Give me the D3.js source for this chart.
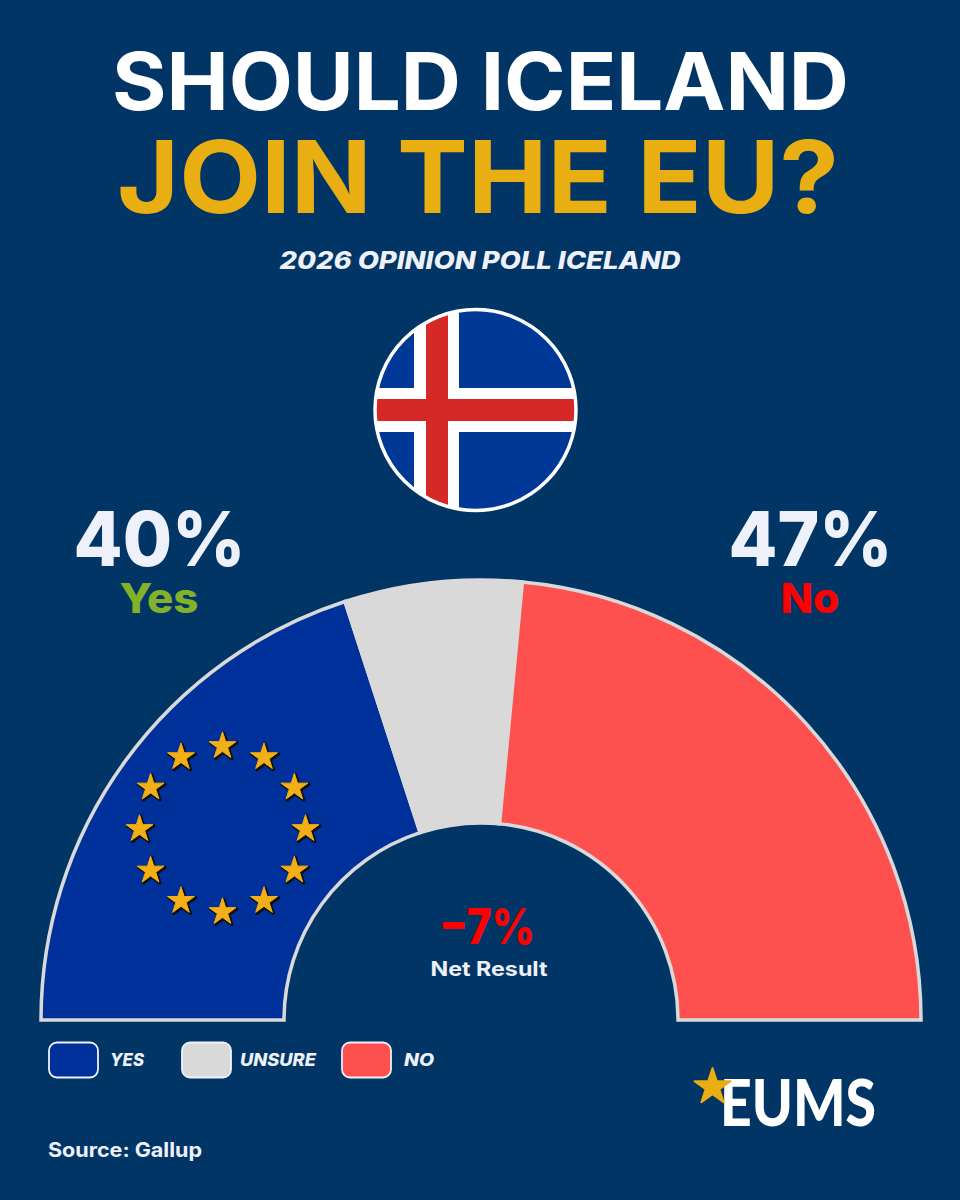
<!DOCTYPE html>
<html><head><meta charset="utf-8">
<script src="https://cdn.jsdelivr.net/npm/d3@7/dist/d3.min.js"></script>
<style>html,body{margin:0;padding:0;background:#013565}svg{display:block}text{font-family:Inter,"Open Sans",sans-serif}</style>
</head><body><svg id="c" width="960" height="1200"></svg>
<script>
const categories=["Yes","Unsure","No"];
const legendLabels=["YES","UNSURE","NO"];
const shares=[40,13,47];
const colours=["#00309a","#d9d9d9","#ff5050"];
const euStarCount=12;
const W=960,H=1200,bg="#013565",gold="#e8ae12",ink="#eef1f9";
const svg=d3.select("#c").attr("viewBox",[0,0,W,H]);
svg.append("rect").attr("width",W).attr("height",H).attr("fill",bg);

function label(t,x,y,size,fill,opts={}){
  const n=svg.append("text").attr("x",x).attr("y",y).attr("font-size",size).attr("fill",fill)
    .attr("font-weight",opts.weight||700).attr("text-anchor",opts.anchor||"start").text(t);
  if(opts.italic)n.attr("font-style","italic");
  if(opts.len)n.attr("textLength",opts.len).attr("lengthAdjust","spacingAndGlyphs");
  return n;
}
label("SHOULD ICELAND",480.5,110,80,"#ffffff",{anchor:"middle",weight:700,len:737});
label("JOIN THE EU?",478,213,100,gold,{anchor:"middle",weight:700,len:722});
label("2026 OPINION POLL ICELAND",480,269,24,ink,{anchor:"middle",italic:true,weight:800,len:401});

// flag
const fx=475.5,fy=410,fr=100;
const defs=svg.append("defs");
defs.append("clipPath").attr("id","fc").append("circle").attr("cx",fx).attr("cy",fy).attr("r",fr);
const flag=svg.append("g").attr("clip-path","url(#fc)");
flag.append("rect").attr("x",fx-fr).attr("y",fy-fr).attr("width",2*fr).attr("height",2*fr).attr("fill","#003897");
flag.append("rect").attr("x",414).attr("y",fy-fr).attr("width",45).attr("height",2*fr).attr("fill","#fff");
flag.append("rect").attr("x",fx-fr).attr("y",388).attr("width",2*fr).attr("height",44).attr("fill","#fff");
flag.append("rect").attr("x",426).attr("y",fy-fr).attr("width",22).attr("height",2*fr).attr("fill","#d72828");
flag.append("rect").attr("x",fx-fr).attr("y",399).attr("width",2*fr).attr("height",22).attr("fill","#d72828");
svg.append("circle").attr("cx",fx).attr("cy",fy).attr("r",fr+0.5).attr("fill","none").attr("stroke","#fff").attr("stroke-width",3.5);

// gauge
const cx=481,cy=1020,R=440,r0=197;
const pie=d3.pie().sort(null).startAngle(-Math.PI/2).endAngle(Math.PI/2);
const arc=d3.arc().innerRadius(r0).outerRadius(R);
const g=svg.append("g").attr("transform",`translate(${cx},${cy})`);
g.selectAll("path").data(pie(shares)).join("path").attr("d",arc)
  .attr("fill",(d,i)=>colours[i]).attr("stroke","#d9d9d9").attr("stroke-width",3.5).attr("stroke-linejoin","miter");

// EU stars
const ex=222.5,ey=829,er=83;
const star=d3.symbol(d3.symbolStar).size(225)();
const sg=svg.append("g");
d3.range(euStarCount).forEach(i=>{
  const a=i/euStarCount*2*Math.PI, x=ex+er*Math.sin(a), y=ey-er*Math.cos(a);
  sg.append("path").attr("d",star).attr("transform",`translate(${x+1.2},${y+1.2})`).attr("fill","#111").attr("stroke","#111").attr("stroke-width",3).attr("stroke-linejoin","round");
  sg.append("path").attr("d",star).attr("transform",`translate(${x},${y})`).attr("fill","#f3af17").attr("stroke","#f3af17").attr("stroke-width",1).attr("stroke-linejoin","round");
});

// headline numbers
label(shares[0]+"%",159.5,566,76,ink,{anchor:"middle",len:172,weight:800});
label(categories[0],159,613,41,"#84b12a",{anchor:"middle",len:79,weight:800});
label(shares[2]+"%",810.5,566,76,ink,{anchor:"middle",len:164,weight:800});
label(categories[2],810,613,41,"#ff0000",{anchor:"middle",len:59,weight:800});
label("−"+(shares[2]-shares[0])+"%",487,944,50,"#ff0000",{anchor:"middle",len:96,weight:800});
label("Net Result",489,976,20,ink,{anchor:"middle",len:117,weight:700});

// legend
const lx=[48,181,341], tx=[110,240,404], tw=[34,76,30];
legendLabels.forEach((t,i)=>{
  svg.append("rect").attr("x",lx[i]+1).attr("y",1042.5).attr("width",49).attr("height",35).attr("rx",8)
    .attr("fill",colours[i]).attr("stroke","#eef1f9").attr("stroke-width",1.8);
  label(t,tx[i],1066,17,ink,{italic:true,weight:800,len:tw[i]});
});
label("Source: Gallup",48,1157,20,ink,{len:154});

// logo
label("EUMS",720,1126,65,"#ffffff",{len:156,weight:900}).style("font-family","Lato");
svg.append("path").attr("d",d3.symbol(d3.symbolStar).size(400)()).attr("transform","translate(712.5,1087)")
  .attr("fill",gold).attr("stroke",gold).attr("stroke-width",2).attr("stroke-linejoin","round");
</script></body></html>
